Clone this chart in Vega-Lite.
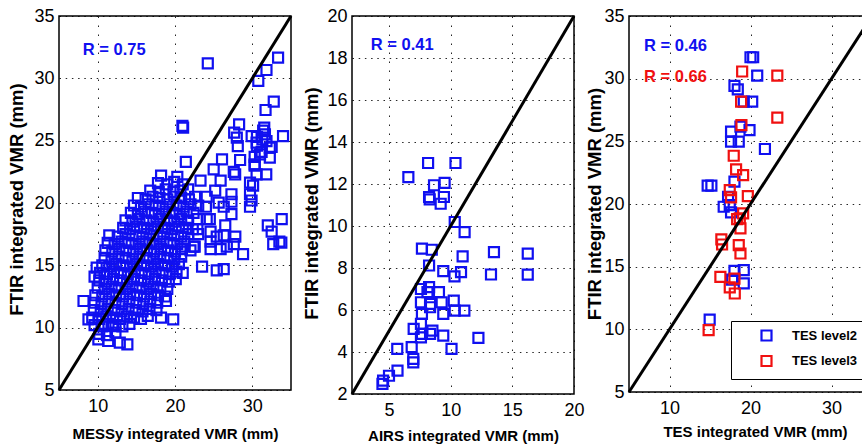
{
  "$schema": "https://vega.github.io/schema/vega-lite/v6.json",
  "background": "#ffffff",
  "padding": {"left": 6, "top": 6, "right": -10, "bottom": 0},
  "bounds": "flush",
  "spacing": 61,
  "resolve": {"scale": {"color": "independent"}, "legend": {"color": "independent"}},
  "config": {
    "font": "Liberation Sans",
    "view": {"stroke": "#000000", "strokeWidth": 1.5},
    "axis": {
      "grid": true, "gridColor": "#000000", "gridWidth": 1, "gridOpacity": 0.85,
      "domain": false, "ticks": false, "tickSize": 0,
      "labelFont": "Liberation Sans", "labelFontSize": 18, "labelColor": "#000000",
      "labelFlush": false, "labelOverlap": false,
      "titleFont": "Liberation Sans", "titleFontWeight": "bold", "titleColor": "#000000",
      "titleBaseline": "middle", "titleAlign": "center"
    },
    "axisX": {"gridDash": [1.5, 7.5], "titleFontSize": 15, "labelPadding": 7},
    "axisY": {"gridDash": [1.5, 4.7], "titleFontSize": 18.5, "labelPadding": 5}
  },
  "datasets": {
    "messy": [
      {"x":24.24,"y":31.2},{"x":33.33,"y":31.66},{"x":31.83,"y":30.67},{"x":30.77,"y":29.79},{"x":32.77,"y":28.13},{"x":31.71,"y":27.46},{"x":33.97,"y":25.37},{"x":28.29,"y":26.31},{"x":27.65,"y":25.64},{"x":27.99,"y":25.24},{"x":28.12,"y":24.57},{"x":29.91,"y":25.37},{"x":31.54,"y":26.04},{"x":31.63,"y":25.51},{"x":31.83,"y":24.97},{"x":30.55,"y":24.84},{"x":32.26,"y":24.44},{"x":31.0,"y":23.9},{"x":32.26,"y":23.64},{"x":26.08,"y":23.5},{"x":28.42,"y":23.45},{"x":27.78,"y":22.3},{"x":30.55,"y":22.3},{"x":29.7,"y":21.63},{"x":25.65,"y":20.03},{"x":33.75,"y":16.82},{"x":20.96,"y":26.18},{"x":21.05,"y":26.05},{"x":19.77,"y":10.67},{"x":18.19,"y":10.8},{"x":16.48,"y":10.94},{"x":18.83,"y":12.14},{"x":8.17,"y":12.14},{"x":8.81,"y":10.67},{"x":10.09,"y":9.06},{"x":11.36,"y":8.93},{"x":12.86,"y":8.8},{"x":13.84,"y":8.66},{"x":12.0,"y":10.13},{"x":9.87,"y":14.81},
      {"x":31.4,"y":25.8},{"x":30.6,"y":25.3},{"x":31.3,"y":25.1},{"x":30.6,"y":24.6},{"x":32.5,"y":24.5},{"x":30.3,"y":23.7},{"x":30.3,"y":23.1},{"x":31.2,"y":24.1},
      {"x":21.4,"y":23.3},{"x":25.0,"y":22.7},{"x":27.6,"y":22.5},{"x":30.3,"y":23.0},{"x":31.8,"y":22.3},{"x":30.1,"y":21.4},{"x":29.7,"y":20.7},{"x":29.9,"y":20.2},{"x":29.7,"y":19.7},{"x":23.3,"y":21.8},{"x":25.9,"y":21.8},{"x":25.2,"y":21.0},{"x":27.3,"y":20.7},{"x":27.3,"y":20.1},{"x":26.3,"y":19.7},{"x":27.3,"y":19.1},{"x":24.1,"y":20.5},{"x":24.0,"y":19.7},{"x":24.1,"y":18.7},{"x":22.9,"y":18.7},{"x":22.9,"y":17.9},{"x":26.5,"y":18.2},{"x":24.6,"y":17.7},{"x":25.4,"y":17.3},{"x":26.3,"y":17.4},{"x":27.8,"y":17.3},{"x":24.6,"y":16.9},{"x":24.6,"y":16.3},{"x":26.7,"y":16.5},{"x":25.9,"y":16.3},{"x":27.6,"y":16.7},{"x":22.4,"y":16.5},{"x":28.8,"y":15.9},{"x":23.5,"y":14.9},{"x":25.4,"y":14.6},{"x":26.3,"y":14.7},{"x":33.8,"y":18.7},{"x":32.0,"y":18.2},{"x":32.5,"y":17.7},{"x":32.7,"y":16.7},{"x":33.5,"y":16.9},{"x":22.55,"y":16.5},{"x":23.0,"y":17.5},{"x":24.5,"y":18.7},{"x":9.6,"y":14.1},
      {"x":18.2,"y":22.2},{"x":20.3,"y":22.1},
      {"x":17.8,"y":21.6},{"x":19.0,"y":21.5},{"x":19.9,"y":21.7},{"x":21.0,"y":21.5},
      {"x":16.8,"y":21.0},{"x":17.9,"y":20.9},{"x":18.8,"y":21.1},{"x":19.8,"y":20.9},{"x":20.7,"y":21.0},{"x":21.7,"y":21.1},
      {"x":15.2,"y":20.4},{"x":16.2,"y":20.3},{"x":17.1,"y":20.5},{"x":18.0,"y":20.4},{"x":19.0,"y":20.3},{"x":19.9,"y":20.5},{"x":20.8,"y":20.4},{"x":21.8,"y":20.3},{"x":22.6,"y":20.5},
      {"x":14.7,"y":19.8},{"x":15.6,"y":19.7},{"x":16.6,"y":19.9},{"x":17.5,"y":19.8},{"x":18.4,"y":19.7},{"x":19.3,"y":19.9},{"x":20.2,"y":19.8},{"x":21.1,"y":19.7},{"x":22.0,"y":19.9},{"x":23.0,"y":19.8},
      {"x":14.3,"y":19.2},{"x":15.2,"y":19.1},{"x":16.1,"y":19.3},{"x":17.0,"y":19.2},{"x":17.9,"y":19.1},{"x":18.8,"y":19.3},{"x":19.7,"y":19.2},{"x":20.6,"y":19.1},{"x":21.5,"y":19.3},{"x":22.4,"y":19.2},
      {"x":13.6,"y":18.6},{"x":14.5,"y":18.5},{"x":15.4,"y":18.7},{"x":16.3,"y":18.6},{"x":17.2,"y":18.5},{"x":18.1,"y":18.7},{"x":19.0,"y":18.6},{"x":19.9,"y":18.5},{"x":20.8,"y":18.7},{"x":21.7,"y":18.6},
      {"x":13.3,"y":18.0},{"x":14.2,"y":17.9},{"x":15.1,"y":18.1},{"x":16.0,"y":18.0},{"x":16.9,"y":17.9},{"x":17.8,"y":18.1},{"x":18.7,"y":18.0},{"x":19.6,"y":17.9},{"x":20.5,"y":18.1},{"x":21.4,"y":18.0},{"x":22.3,"y":17.9},
      {"x":11.5,"y":17.4},{"x":12.6,"y":17.3},{"x":13.6,"y":17.5},{"x":14.5,"y":17.4},{"x":15.4,"y":17.3},{"x":16.3,"y":17.5},{"x":17.2,"y":17.4},{"x":18.1,"y":17.3},{"x":19.0,"y":17.5},{"x":19.9,"y":17.4},{"x":20.8,"y":17.3},{"x":21.7,"y":17.5},
      {"x":11.3,"y":16.8},{"x":12.2,"y":16.7},{"x":13.1,"y":16.9},{"x":14.0,"y":16.8},{"x":14.9,"y":16.7},{"x":15.8,"y":16.9},{"x":16.7,"y":16.8},{"x":17.6,"y":16.7},{"x":18.5,"y":16.9},{"x":19.4,"y":16.8},{"x":20.3,"y":16.7},{"x":21.2,"y":16.9},
      {"x":11.0,"y":16.2},{"x":11.9,"y":16.1},{"x":12.8,"y":16.3},{"x":13.7,"y":16.2},{"x":14.6,"y":16.1},{"x":15.5,"y":16.3},{"x":16.4,"y":16.2},{"x":17.3,"y":16.1},{"x":18.2,"y":16.3},{"x":19.1,"y":16.2},{"x":20.0,"y":16.1},{"x":20.9,"y":16.3},{"x":22.0,"y":16.2},
      {"x":10.9,"y":15.6},{"x":11.8,"y":15.5},{"x":12.7,"y":15.7},{"x":13.6,"y":15.6},{"x":14.5,"y":15.5},{"x":15.4,"y":15.7},{"x":16.3,"y":15.6},{"x":17.2,"y":15.5},{"x":18.1,"y":15.7},{"x":19.0,"y":15.6},{"x":19.9,"y":15.5},{"x":20.8,"y":15.7},
      {"x":10.6,"y":15.0},{"x":11.5,"y":14.9},{"x":12.4,"y":15.1},{"x":13.3,"y":15.0},{"x":14.2,"y":14.9},{"x":15.1,"y":15.1},{"x":16.0,"y":15.0},{"x":16.9,"y":14.9},{"x":17.8,"y":15.1},{"x":18.7,"y":15.0},{"x":19.6,"y":14.9},{"x":20.5,"y":15.1},
      {"x":10.3,"y":14.4},{"x":11.2,"y":14.3},{"x":12.1,"y":14.5},{"x":13.0,"y":14.4},{"x":13.9,"y":14.3},{"x":14.8,"y":14.5},{"x":15.7,"y":14.4},{"x":16.6,"y":14.3},{"x":17.5,"y":14.5},{"x":18.4,"y":14.4},{"x":19.3,"y":14.3},{"x":20.2,"y":14.5},{"x":21.0,"y":14.4},
      {"x":10.2,"y":13.8},{"x":11.1,"y":13.7},{"x":12.0,"y":13.9},{"x":12.9,"y":13.8},{"x":13.8,"y":13.7},{"x":14.7,"y":13.9},{"x":15.6,"y":13.8},{"x":16.5,"y":13.7},{"x":17.4,"y":13.9},{"x":18.3,"y":13.8},{"x":19.2,"y":13.7},{"x":20.1,"y":13.9},
      {"x":10.0,"y":13.2},{"x":10.9,"y":13.1},{"x":11.8,"y":13.3},{"x":12.7,"y":13.2},{"x":13.6,"y":13.1},{"x":14.5,"y":13.3},{"x":15.4,"y":13.2},{"x":16.3,"y":13.1},{"x":17.2,"y":13.3},{"x":18.1,"y":13.2},{"x":19.0,"y":13.1},
      {"x":9.7,"y":12.6},{"x":10.6,"y":12.5},{"x":11.5,"y":12.7},{"x":12.4,"y":12.6},{"x":13.3,"y":12.5},{"x":14.2,"y":12.7},{"x":15.1,"y":12.6},{"x":16.0,"y":12.5},{"x":16.9,"y":12.7},{"x":17.8,"y":12.6},{"x":18.7,"y":12.5},
      {"x":9.6,"y":12.0},{"x":10.5,"y":11.9},{"x":11.4,"y":12.1},{"x":12.3,"y":12.0},{"x":13.2,"y":11.9},{"x":14.1,"y":12.1},{"x":15.0,"y":12.0},{"x":15.9,"y":11.9},{"x":16.8,"y":12.1},{"x":17.7,"y":12.0},
      {"x":9.5,"y":11.4},{"x":10.4,"y":11.3},{"x":11.3,"y":11.5},{"x":12.2,"y":11.4},{"x":13.1,"y":11.3},{"x":14.0,"y":11.5},{"x":14.9,"y":11.4},{"x":15.8,"y":11.3},{"x":16.7,"y":11.5},{"x":17.6,"y":11.4},
      {"x":9.3,"y":10.8},{"x":10.2,"y":10.7},{"x":11.1,"y":10.9},{"x":12.0,"y":10.8},{"x":12.9,"y":10.7},{"x":13.8,"y":10.9},{"x":14.7,"y":10.8},{"x":15.6,"y":10.7},
      {"x":9.6,"y":10.2},{"x":10.5,"y":10.1},{"x":11.4,"y":10.3},{"x":12.3,"y":10.2},{"x":13.2,"y":10.1},{"x":14.1,"y":10.3},
      {"x":10.2,"y":9.5},{"x":11.2,"y":9.4},{"x":12.3,"y":9.6}
    ],
    "airs": [
      {"x":6.57,"y":12.33},{"x":8.17,"y":13.0},{"x":10.39,"y":13.0},{"x":8.65,"y":11.94},{"x":9.51,"y":12.05},{"x":8.25,"y":11.38},{"x":8.3,"y":11.27},{"x":9.45,"y":11.38},{"x":9.19,"y":11.06},{"x":10.33,"y":10.19},{"x":11.13,"y":9.71},{"x":7.67,"y":8.92},{"x":8.47,"y":8.87},{"x":8.25,"y":8.12},{"x":9.4,"y":7.85},{"x":10.31,"y":7.6},{"x":10.84,"y":7.8},{"x":10.97,"y":8.55},{"x":13.51,"y":8.76},{"x":13.27,"y":7.69},{"x":16.25,"y":8.68},{"x":16.25,"y":7.68},{"x":7.59,"y":7.0},{"x":8.25,"y":7.09},{"x":9.05,"y":6.85},{"x":7.59,"y":6.37},{"x":8.33,"y":6.29},{"x":9.27,"y":6.37},{"x":10.25,"y":6.45},{"x":11.11,"y":5.97},{"x":10.33,"y":5.97},{"x":9.4,"y":5.82},{"x":8.33,"y":6.13},{"x":7.67,"y":5.82},{"x":7.59,"y":5.34},{"x":7.0,"y":5.1},{"x":7.67,"y":4.86},{"x":8.52,"y":5.02},{"x":8.33,"y":4.86},{"x":9.4,"y":4.78},{"x":12.25,"y":4.67},{"x":10.07,"y":4.15},{"x":6.84,"y":4.23},{"x":6.97,"y":3.67},{"x":6.97,"y":3.51},{"x":5.67,"y":4.15},{"x":5.69,"y":3.11},{"x":5.0,"y":2.87},{"x":4.52,"y":2.64},{"x":4.47,"y":2.48},{"x":7.59,"y":4.7},{"x":8.12,"y":6.85}
    ],
    "tes": [
      {"x":20.0,"y":31.71,"product":"TES level2"},{"x":20.33,"y":31.71,"product":"TES level2"},{"x":20.83,"y":30.25,"product":"TES level2"},{"x":18.02,"y":29.42,"product":"TES level2"},{"x":18.43,"y":29.15,"product":"TES level2"},{"x":19.17,"y":28.17,"product":"TES level2"},{"x":20.21,"y":28.17,"product":"TES level2"},{"x":17.6,"y":25.77,"product":"TES level2"},{"x":18.76,"y":26.17,"product":"TES level2"},{"x":19.88,"y":25.9,"product":"TES level2"},{"x":17.6,"y":24.97,"product":"TES level2"},{"x":18.55,"y":24.97,"product":"TES level2"},{"x":21.78,"y":24.39,"product":"TES level2"},{"x":14.71,"y":21.46,"product":"TES level2"},{"x":15.17,"y":21.46,"product":"TES level2"},{"x":18.02,"y":21.78,"product":"TES level2"},{"x":16.69,"y":19.78,"product":"TES level2"},{"x":17.44,"y":19.91,"product":"TES level2"},{"x":17.6,"y":19.33,"product":"TES level2"},{"x":17.23,"y":20.58,"product":"TES level2"},{"x":18.02,"y":14.67,"product":"TES level2"},{"x":19.17,"y":14.72,"product":"TES level2"},{"x":19.17,"y":13.66,"product":"TES level2"},{"x":17.73,"y":13.97,"product":"TES level2"},{"x":14.96,"y":10.78,"product":"TES level2"},
      {"x":18.97,"y":30.57,"product":"TES level3"},{"x":23.31,"y":30.25,"product":"TES level3"},{"x":18.84,"y":28.17,"product":"TES level3"},{"x":23.31,"y":26.89,"product":"TES level3"},{"x":18.88,"y":26.3,"product":"TES level3"},{"x":17.93,"y":23.85,"product":"TES level3"},{"x":18.22,"y":22.76,"product":"TES level3"},{"x":19.09,"y":22.31,"product":"TES level3"},{"x":17.44,"y":21.11,"product":"TES level3"},{"x":17.6,"y":20.53,"product":"TES level3"},{"x":19.67,"y":20.63,"product":"TES level3"},{"x":19.09,"y":19.25,"product":"TES level3"},{"x":18.68,"y":18.85,"product":"TES level3"},{"x":18.35,"y":18.8,"product":"TES level3"},{"x":18.76,"y":18.05,"product":"TES level3"},{"x":16.4,"y":17.17,"product":"TES level3"},{"x":16.49,"y":16.77,"product":"TES level3"},{"x":18.55,"y":16.72,"product":"TES level3"},{"x":18.76,"y":16.05,"product":"TES level3"},{"x":16.28,"y":14.19,"product":"TES level3"},{"x":17.44,"y":13.34,"product":"TES level3"},{"x":18.02,"y":14.05,"product":"TES level3"},{"x":18.06,"y":12.86,"product":"TES level3"},{"x":14.83,"y":9.93,"product":"TES level3"}
    ],
    "oneToOne35": [{"x":5,"y":5},{"x":35,"y":35}],
    "oneToOne20": [{"x":2,"y":2},{"x":20,"y":20}],
    "rMessy": [{"x":8.08,"y":32.3,"label":"R = 0.75"}],
    "rAirs": [{"x":3.52,"y":18.6,"label":"R = 0.41"}],
    "rTes": [{"x":6.85,"y":32.6,"label":"R = 0.46","product":"TES level2"},{"x":6.85,"y":30.16,"label":"R = 0.66","product":"TES level3"}]
  },
  "hconcat": [
    {
      "width": 232,
      "height": 374,
      "encoding": {
        "x": {"field": "x", "type": "quantitative", "scale": {"domain": [5, 35], "nice": false, "zero": false},
              "axis": {"values": [10, 20, 30], "title": "MESSy integrated VMR (mm)", "titleY": 43}},
        "y": {"field": "y", "type": "quantitative", "scale": {"domain": [5, 35], "nice": false, "zero": false},
              "axis": {"values": [5, 10, 15, 20, 25, 30, 35], "title": "FTIR integrated VMR (mm)", "titleX": -43, "titleY": 183}}
      },
      "layer": [
        {"data": {"name": "messy"}, "mark": {"type": "point", "shape": "square", "filled": false, "size": 100, "strokeWidth": 2.2, "color": "#1010f0", "opacity": 1}},
        {"data": {"name": "oneToOne35"}, "mark": {"type": "line", "color": "#000000", "strokeWidth": 3}},
        {"data": {"name": "rMessy"}, "mark": {"type": "text", "align": "left", "baseline": "middle", "font": "Liberation Sans", "fontWeight": "bold", "fontSize": 16.5, "color": "#1010f0"},
         "encoding": {"text": {"field": "label"}}}
      ]
    },
    {
      "bounds": "flush",
      "spacing": 55,
      "resolve": {"scale": {"color": "independent"}, "legend": {"color": "independent"}},
      "hconcat": [
        {
          "width": 222,
          "height": 378,
          "encoding": {
            "x": {"field": "x", "type": "quantitative", "scale": {"domain": [2, 20], "nice": false, "zero": false},
                  "axis": {"values": [5, 10, 15, 20], "title": "AIRS integrated VMR (mm)", "titleY": 41.5}},
            "y": {"field": "y", "type": "quantitative", "scale": {"domain": [2, 20], "nice": false, "zero": false},
                  "axis": {"values": [2, 4, 6, 8, 10, 12, 14, 16, 18, 20], "title": "FTIR integrated VMR (mm)", "titleX": -41, "titleY": 187}}
          },
          "layer": [
            {"data": {"name": "airs"}, "mark": {"type": "point", "shape": "square", "filled": false, "size": 100, "strokeWidth": 2.2, "color": "#1010f0", "opacity": 1}},
            {"data": {"name": "oneToOne20"}, "mark": {"type": "line", "color": "#000000", "strokeWidth": 3}},
            {"data": {"name": "rAirs"}, "mark": {"type": "text", "align": "left", "baseline": "middle", "font": "Liberation Sans", "fontWeight": "bold", "fontSize": 16.5, "color": "#1010f0"},
             "encoding": {"text": {"field": "label"}}}
          ]
        },
        {
          "width": 243,
          "height": 376,
          "resolve": {"scale": {"color": "independent"}, "legend": {"color": "independent"}},
          "encoding": {
            "x": {"field": "x", "type": "quantitative", "scale": {"domain": [5, 35], "nice": false, "zero": false},
                  "axis": {"values": [10, 20, 30], "title": "TES integrated VMR (mm)", "titleX": 126, "titleY": 39}},
            "y": {"field": "y", "type": "quantitative", "scale": {"domain": [5, 35], "nice": false, "zero": false},
                  "axis": {"values": [5, 10, 15, 20, 25, 30, 35], "title": "FTIR integrated VMR (mm)", "titleX": -35, "titleY": 187.5}}
          },
          "layer": [
            {"data": {"name": "tes"}, "mark": {"type": "point", "shape": "square", "filled": false, "size": 100, "strokeWidth": 2.2, "opacity": 1},
             "encoding": {
               "color": {"field": "product", "type": "nominal",
                         "scale": {"domain": ["TES level2", "TES level3"], "range": ["#1010f0", "#f01010"]},
                         "legend": {"title": null, "orient": "none", "legendX": 102, "legendY": 305,
                                    "strokeColor": "#000000", "fillColor": "#ffffff", "padding": 8,
                                    "symbolType": "square", "symbolSize": 100, "symbolStrokeWidth": 2.2,
                                    "symbolOffset": 21, "labelOffset": 19, "rowPadding": 6.5,
                                    "labelFont": "Liberation Sans", "labelFontSize": 13, "labelFontWeight": "bold", "labelColor": "#000000"}}
             }},
            {"data": {"name": "oneToOne35"}, "mark": {"type": "line", "color": "#000000", "strokeWidth": 3}},
            {"data": {"name": "rTes"}, "mark": {"type": "text", "align": "left", "baseline": "middle", "font": "Liberation Sans", "fontWeight": "bold", "fontSize": 16.5},
             "encoding": {
               "text": {"field": "label"},
               "color": {"field": "product", "type": "nominal",
                         "scale": {"domain": ["TES level2", "TES level3"], "range": ["#1010f0", "#f01010"]},
                         "legend": null}
             }}
          ]
        }
      ]
    }
  ]
}
